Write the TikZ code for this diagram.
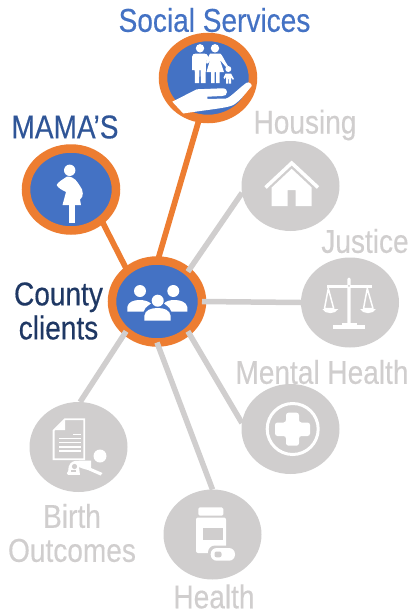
\documentclass[tikz,border=0pt]{standalone}
\usepackage{fontspec}
\setmainfont[FakeStretch=0.85,FakeBold=0.35]{Liberation Sans}
\usetikzlibrary{shapes.geometric}
\definecolor{cgray}{HTML}{D0CECE}
\definecolor{cblue}{HTML}{4472C4}
\definecolor{corange}{HTML}{ED7D31}
\definecolor{cdark}{HTML}{2F5597}
\definecolor{cnavy}{HTML}{1F3864}
\tikzset{
 hub/.style={ellipse,draw=corange,line width=8.5pt,fill=cblue,minimum width=90pt,minimum height=82pt,inner sep=0pt,outer sep=0pt},
 grayhub/.style={ellipse,fill=cgray,minimum width=98pt,minimum height=90pt,inner sep=0pt,outer sep=0pt},
 orangelink/.style={draw=corange,line width=5.7pt},
 graylink/.style={draw=cgray,line width=5.5pt},
 lab/.style={font=\fontsize{33}{35}\selectfont,inner sep=0pt},
 labtwo/.style={lab,align=center},
}
\begin{document}
\begin{tikzpicture}[x=1pt,y=-1pt]
\useasboundingbox (0,0) rectangle (413,614);
\node[hub] (social) at (208,78) {};
\node[hub] (mama) at (71,189.5) {};
\node[hub] (county) at (157,301.5) {};
\node[grayhub] (housing) at (290.5,186) {};
\node[grayhub] (justice) at (350,302.5) {};
\node[grayhub] (mental) at (290.5,429) {};
\node[grayhub] (birth) at (78.5,447) {};
\node[grayhub] (health) at (212.5,534.5) {};
\draw[orangelink] (county.89) -- (social.-102);
\draw[orangelink] (county.134) -- (mama.-45);
\draw[graylink] (county.44) -- (housing.188);
\draw[graylink] (county.0) -- (justice.180);
\draw[graylink] (county.-44) -- (mental.173);
\draw[graylink] (county.-136) -- (birth.88);
\draw[graylink] (county.-90) -- (health.90);
\node[lab,text=cblue] (tsocial) at (214.5,20) {Social Services};
\node[lab,text=cdark] (tmama) at (65,127) {MAMA'S};
\node[labtwo,text=cnavy] (tcounty) at (58.5,311) {County\\[-1pt]clients};
\node[lab,text=cgray] (thousing) at (305,125) {Housing};
\node[lab,text=cgray] (tjustice) at (365,241) {Justice};
\node[lab,text=cgray] (tmental) at (322,372) {Mental Health};
\node[labtwo,text=cgray] (tbirth) at (72,533) {Birth\\[-1pt]Outcomes};
\node[lab,text=cgray] (thealth) at (214,596.5) {Health};
% social icon: family and hand
\fill[white] (200,48.3) circle (4.2);
\fill[white] (215,48.3) circle (4.2);
\fill[white] (192,70) -- (192,57) .. controls (192,54.5) and (194,53.5) .. (196,53.5) -- (204,53.5) .. controls (206,53.5) and (208,54.5) .. (208.5,57) -- (209.5,62) -- (208,63) -- (206,60) -- (205.5,83) -- (201,83) -- (200.5,70) -- (199.5,70) -- (199,83) -- (195,83) -- (194.5,60) -- (194.3,70) -- cycle;
\fill[white] (210,53.5) -- (220,53.5) .. controls (222,54) and (224,60) .. (228,66) -- (226,67) -- (220,60) -- (224,72) -- (219.5,72) -- (219.5,83) -- (216,83) -- (216,72) -- (214.5,72) -- (214.5,83) -- (211,83) -- (211,72) -- (206.5,72) -- (210,60) -- (207,64) -- (206,62) -- cycle;
\fill[white] (228.3,69) circle (3);
\fill[white] (225.5,73.5) -- (231,73.5) -- (234,79) -- (232.8,79.8) -- (231,77) -- (231,83.5) -- (228.8,83.5) -- (228.8,79) -- (228,79) -- (228,83.5) -- (226,83.5) -- (226,77) -- (224.5,79) -- (223.5,77.5) -- cycle;
\fill[white] (172.3,101.7) -- (196.7,89.3) -- (222,88.3) .. controls (226,88.3) and (227,90) .. (227,92) .. controls (227,95) and (225,96) .. (222,96) -- (207.3,96.7) -- (207.3,99) -- (226,98.5) .. controls (230,98) and (240,87) .. (246.7,82.7) .. controls (249,81.5) and (252,84) .. (251.7,86) .. controls (245,94) and (240,101) .. (233.3,105) .. controls (228,108) and (205,110) .. (183.3,113.5) -- cycle;
% pregnant woman
\fill[white] (69.7,170.3) circle (5.7);
\fill[white] (67,176.5) .. controls (62,180) and (58,182) .. (56.7,185) .. controls (58,188) and (62,190) .. (66,192) -- (62.5,205) -- (81,205) -- (80,199.5) .. controls (84,197) and (83.5,190) .. (80,186) .. controls (77,182) and (75,176.5) .. (67,176.5) -- cycle;
\fill[white] (69,205) rectangle (75,222.7);
% county icon
\fill[white] (140,291) circle (6);
\fill[white] (173.3,291) circle (6);
\fill[white] (127.3,311.7) -- (127.3,307) .. controls (128,302) and (134,300) .. (139,300) .. controls (144,300) and (148,301) .. (151,303.5) .. controls (146,307) and (144,309) .. (143.5,311.7) -- cycle;
\fill[white] (187.3,311.7) -- (187.3,307) .. controls (186.5,302) and (180,300) .. (175,300) .. controls (170,300) and (166,301) .. (164,303.5) .. controls (169,307) and (171,309) .. (171.5,311.7) -- cycle;
\fill[white] (157.7,300.7) circle (6);
\fill[white] (144.3,320.7) -- (144.3,316) .. controls (145,310) and (151,308) .. (157.7,308) .. controls (164,308) and (170,310) .. (170.7,316) -- (170.7,320.7) -- cycle;
% house
\draw[white,line width=3.5pt,line join=miter] (265.5,187.5) -- (291.7,163) -- (318,187.5);
\fill[white] (271.7,187.5) -- (291.7,168.8) -- (311.7,187.5) -- (311.7,206) -- (295.7,206) -- (295.7,190) -- (287.5,190) -- (287.5,206) -- (271.7,206) -- cycle;
% scales
\fill[white] (347.3,325) -- (347.3,279) .. controls (347.5,277) and (350.5,277) .. (350.7,279) -- (350.7,325) -- cycle;
\fill[white] (326.7,285) rectangle (372.3,287.8);
\fill[cgray] (349,285.8) circle (1);
\fill[white] (341.7,323) rectangle (356.7,325.5);
\fill[white] (333.3,325.2) rectangle (365,329);
\draw[white,line width=1.5pt,line join=round] (328.3,288.5) -- (324.5,308.5) -- (333.7,308.5) -- cycle;
\draw[white,line width=1.5pt,line join=round] (367.3,288.5) -- (363.5,308.5) -- (373,308.5) -- cycle;
\fill[white] (322.3,309) .. controls (325,314.5) and (335.5,314.5) .. (338.3,309) -- cycle;
\fill[white] (360,309) .. controls (363,314.5) and (373,314.5) .. (376,309) -- cycle;
% medical cross
\draw[white,line width=3pt] (292.7,429) circle (25.5);
\fill[white,rounded corners=2.5pt] (286,412.7) -- (299,412.7) -- (299,422.5) -- (310,422.5) -- (310,436) -- (299,436) -- (299,445.7) -- (286,445.7) -- (286,436) -- (275,436) -- (275,422.5) -- (286,422.5) -- cycle;
% birth: document and baby
\draw[white,line width=1.8pt,line join=miter] (65,419.2) -- (84.2,419.2) -- (84.2,459.2) -- (53.6,459.2) -- (53.6,430.5) -- cycle;
\fill[white] (65,420) -- (65,430) -- (55,430) -- cycle;
\fill[white] (73.3,433.5) rectangle (80.7,435.2);
\foreach \yy in {437.5,441.5,445.8,449.9} \fill[white] (59,\yy) rectangle (80.7,\yy+1.7);
\fill[white] (100,456) circle (6.5);
\fill[white] (68.2,471) .. controls (68,465) and (71,461) .. (76,460.8) -- (91,460.5) -- (91,468) -- (102.5,473) -- (100.5,475.5) -- (88,470) .. controls (84,469) and (81,468) .. (79,467) -- (80,474.8) -- (68,474.8) .. controls (66.5,474.8) and (66.5,472) .. (68.2,471) -- cycle;
\fill[cgray] (74.5,466.5) circle (2.6);
\fill[cgray] (71,470) rectangle (76,471.5);
% pill bottle
\fill[white,rounded corners=1.5pt] (198.3,507.3) rectangle (223.3,515.7);
\fill[white,rounded corners=2pt] (196,517.5) rectangle (226,553);
\fill[cgray] (203.3,528.3) rectangle (223.3,540);
\fill[cgray,rounded corners=7pt] (208,545.5) rectangle (237.5,563.5);
\fill[white,rounded corners=6pt] (210.7,548) rectangle (235,560.7);
\fill[cgray,rounded corners=2pt] (214.5,551.5) rectangle (221.5,557.3);
\end{tikzpicture}
\end{document}
